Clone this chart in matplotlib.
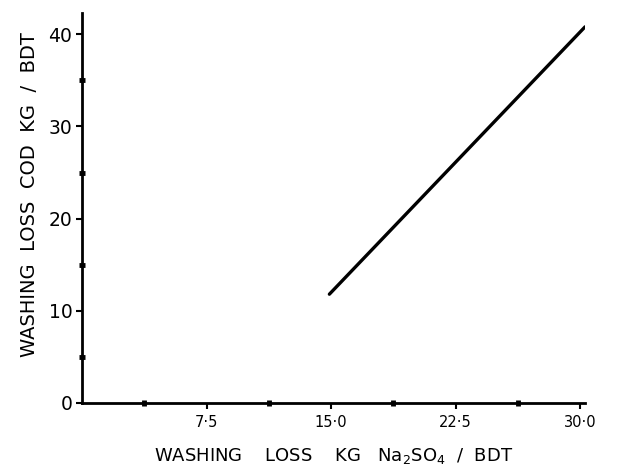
import matplotlib
matplotlib.use('Agg')
import matplotlib.pyplot as plt
from matplotlib.ticker import FixedLocator

# data
na2so4 = [14.9, 30.3]        # washing loss kg Na2SO4 / BDT
cod = [11.8, 40.8]           # washing loss COD kg / BDT

xticks = [7.5, 15.0, 22.5, 30.0]
xticklabels = ['7·5', '15·0', '22·5', '30·0']
xminor = [3.75, 11.25, 18.75, 26.25]
yticks = [0, 10, 20, 30, 40]
yticklabels = ['0', '10', '20', '30', '40']
yminor = [5, 15, 25, 35]

plt.rcParams['font.family'] = ['DejaVu Sans']

fig = plt.figure(figsize=(6.28, 4.75), dpi=100)
ax = fig.add_axes([0.1306, 0.1516, 0.801, 0.821])

ax.plot(na2so4, cod, color='black', lw=2.4, solid_capstyle='round')

ax.set_xlim(0, 30.3)
ax.set_ylim(0, 42.3)

for s in ['top', 'right']:
    ax.spines[s].set_visible(False)
for s in ['left', 'bottom']:
    ax.spines[s].set_linewidth(2.0)

ax.set_xticks(xticks)
ax.set_xticklabels(xticklabels, fontsize=10.5)
ax.set_yticks(yticks)
ax.set_yticklabels(yticklabels, fontsize=13.5)
ax.xaxis.set_minor_locator(FixedLocator(xminor))
ax.yaxis.set_minor_locator(FixedLocator(yminor))
ax.tick_params(axis='both', which='major', direction='out', length=4, width=1.5, colors='black')
ax.tick_params(axis='x', which='major', pad=5)
ax.tick_params(axis='y', which='major', pad=3)
ax.tick_params(axis='both', which='minor', direction='inout', length=4, width=3.5)

ax.set_xlabel(r'WASHING    LOSS    KG   Na$_2$SO$_4$  /  BDT', fontsize=13, labelpad=11)
ax.set_ylabel('WASHING  LOSS  COD  KG  /  BDT', fontsize=14)
ax.yaxis.set_label_coords(-0.085, 0.535)

fig.savefig('out.png', dpi=100)
